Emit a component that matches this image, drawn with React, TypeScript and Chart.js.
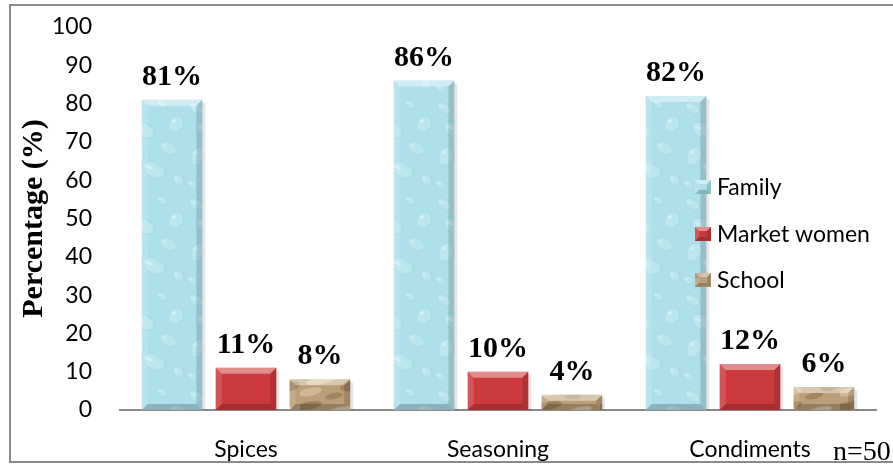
import React, { useEffect, useRef } from "react";
import { Chart, registerables } from "chart.js";

Chart.register(...registerables);

// ---------- data ----------
const categories = ["Spices", "Seasoning", "Condiments"];
const seriesNames = ["Family", "Market women", "School"];
const familyValues = [81, 86, 82];
const marketWomenValues = [11, 10, 12];
const schoolValues = [8, 4, 6];
const yMin = 0;
const yMax = 100;
const yStep = 10;
const yTitle = "Percentage (%)";
const sampleNote = "n=50";

// ---------- textures ----------
function makeFamilyPattern(): CanvasPattern | string {
  const c = document.createElement("canvas");
  c.width = 62;
  c.height = 96;
  const g = c.getContext("2d");
  if (!g) return "#ade0ea";
  g.fillStyle = "#aee0ea";
  g.fillRect(0, 0, c.width, c.height);
  const drops = [
    [10, 12, 8, 5], [38, 8, 6, 4], [52, 28, 7, 9], [20, 34, 11, 7],
    [44, 52, 9, 6], [12, 60, 7, 10], [30, 74, 12, 7], [54, 84, 6, 5],
    [6, 88, 5, 4],
  ];
  drops.forEach(([x, y, rx, ry]) => {
    g.beginPath();
    g.ellipse(x, y, rx, ry, 0.5, 0, Math.PI * 2);
    g.fillStyle = "rgba(205,240,246,0.4)";
    g.fill();
    g.lineWidth = 1.2;
    g.strokeStyle = "rgba(130,195,208,0.22)";
    g.stroke();
    g.beginPath();
    g.ellipse(x - rx * 0.35, y - ry * 0.35, rx * 0.35, ry * 0.25, 0.5, 0, Math.PI * 2);
    g.fillStyle = "rgba(255,255,255,0.3)";
    g.fill();
  });
  return g.createPattern(c, "repeat") || "#ade0ea";
}

function makeSchoolPattern(): CanvasPattern | string {
  const c = document.createElement("canvas");
  c.width = 60;
  c.height = 40;
  const g = c.getContext("2d");
  if (!g) return "#b69b76";
  g.fillStyle = "#bb9f78";
  g.fillRect(0, 0, c.width, c.height);
  const streaks = [
    [8, 6, 14, 4, "rgba(125,92,58,0.45)"], [40, 10, 12, 3, "rgba(232,214,180,0.7)"],
    [22, 20, 16, 4, "rgba(232,214,180,0.6)"], [50, 26, 10, 5, "rgba(115,85,52,0.4)"],
    [10, 32, 12, 4, "rgba(222,202,166,0.6)"], [34, 36, 9, 3, "rgba(125,92,58,0.4)"],
  ] as [number, number, number, number, string][];
  streaks.forEach(([x, y, rx, ry, col]) => {
    g.beginPath();
    g.ellipse(x, y, rx, ry, -0.2, 0, Math.PI * 2);
    g.fillStyle = col;
    g.fill();
  });
  return g.createPattern(c, "repeat") || "#b69b76";
}

function bevel(ctx: CanvasRenderingContext2D, left: number, top: number, right: number, bottom: number, size: number) {
  const b = Math.min(size, (bottom - top) / 2, (right - left) / 2);
  const poly = (pts: number[][], fill: string) => {
    ctx.beginPath();
    ctx.moveTo(pts[0][0], pts[0][1]);
    for (let i = 1; i < pts.length; i++) ctx.lineTo(pts[i][0], pts[i][1]);
    ctx.closePath();
    ctx.fillStyle = fill;
    ctx.fill();
  };
  poly([[left, top], [right, top], [right - b, top + b], [left + b, top + b]], "rgba(255,255,255,0.42)");
  poly([[left, top], [left + b, top + b], [left + b, bottom - b], [left, bottom]], "rgba(255,255,255,0.14)");
  poly([[right, top], [right - b, top + b], [right - b, bottom - b], [right, bottom]], "rgba(0,0,0,0.14)");
  poly([[left, bottom], [left + b, bottom - b], [right - b, bottom - b], [right, bottom]], "rgba(0,0,0,0.2)");
}

export default function App() {
  const canvasRef = useRef<HTMLCanvasElement | null>(null);

  useEffect(() => {
    const canvas = canvasRef.current;
    if (!canvas) return;
    const familyFill = makeFamilyPattern();
    const schoolFill = makeSchoolPattern();
    const marketFill = "#cd3a3d";
    const fills = [familyFill, marketFill, schoolFill];
    const seriesValues = [familyValues, marketWomenValues, schoolValues];

    const decorPlugin = {
      id: "decor",
      beforeDraw(chart: any) {
        const ctx = chart.ctx as CanvasRenderingContext2D;
        ctx.save();
        ctx.fillStyle = "#ffffff";
        ctx.fillRect(0, 0, chart.width, chart.height);
        ctx.restore();
      },
      beforeDatasetsDraw(chart: any) {
        const ctx = chart.ctx as CanvasRenderingContext2D;
        ctx.save();
        chart.data.datasets.forEach((_: any, di: number) => {
          const meta = chart.getDatasetMeta(di);
          meta.data.forEach((el: any) => {
            const { x, y, base, width } = el.getProps(["x", "y", "base", "width"], true);
            ctx.fillStyle = "rgba(0,0,0,0.1)";
            ctx.fillRect(x - width / 2 + 3, y + 3, width, base - y - 3);
          });
        });
        ctx.restore();
      },
      afterDatasetsDraw(chart: any) {
        const ctx = chart.ctx as CanvasRenderingContext2D;
        ctx.save();
        chart.data.datasets.forEach((ds: any, di: number) => {
          const meta = chart.getDatasetMeta(di);
          meta.data.forEach((el: any, i: number) => {
            const { x, y, base, width } = el.getProps(["x", "y", "base", "width"], true);
            bevel(ctx, x - width / 2, y, x + width / 2, base, 6);
            ctx.fillStyle = "#000000";
            ctx.font = "bold 30px 'Liberation Serif', 'Times New Roman', serif";
            ctx.textAlign = "center";
            ctx.textBaseline = "alphabetic";
            ctx.fillText(ds.data[i] + "%", x, y - 15);
          });
        });
        ctx.restore();
      },
      afterDraw(chart: any) {
        const ctx = chart.ctx as CanvasRenderingContext2D;
        ctx.save();
        // legend
        const rows = [187, 234, 280];
        seriesNames.forEach((name, i) => {
          const cy = rows[i];
          ctx.fillStyle = fills[i] as any;
          ctx.fillRect(695, cy - 7, 16, 14);
          bevel(ctx, 695, cy - 7, 711, cy + 7, 4);
          ctx.fillStyle = "#000000";
          ctx.font = "23px Lato, 'Open Sans', sans-serif";
          ctx.textAlign = "left";
          ctx.textBaseline = "middle";
          ctx.fillText(name, 717, cy + 1);
        });
        // sample size note
        ctx.font = "28px 'Liberation Serif', 'Times New Roman', serif";
        ctx.textAlign = "left";
        ctx.textBaseline = "alphabetic";
        ctx.fillStyle = "#000000";
        ctx.fillText(sampleNote, 833, 460);
        // outer frame
        ctx.strokeStyle = "#8a8a8a";
        ctx.lineWidth = 2;
        ctx.strokeRect(10, 5, chart.width + 20, 457);
        ctx.restore();
      },
    };

    const chart = new Chart(canvas, {
      type: "bar",
      data: {
        labels: categories,
        datasets: seriesNames.map((name, i) => ({
          label: name,
          data: seriesValues[i],
          backgroundColor: fills[i] as any,
          borderWidth: 0,
          categoryPercentage: 0.88,
          barPercentage: 0.82,
        })),
      },
      options: {
        responsive: false,
        animation: false,
        layout: { padding: { left: 0, right: 17, top: 27, bottom: 0 } },
        plugins: {
          legend: { display: false },
          tooltip: { enabled: false },
          title: { display: false },
        },
        scales: {
          x: {
            grid: { display: false, drawTicks: false },
            border: { display: true, color: "#8a8a8a", width: 2 },
            ticks: {
              color: "#000000",
              padding: 26,
              font: { family: "Lato, 'Open Sans', sans-serif", size: 23 },
            },
            afterFit(scale: any) {
              scale.height = 54;
              scale.paddingLeft = 0;
              scale.paddingRight = 0;
            },
          },
          y: {
            min: yMin,
            max: yMax,
            grid: { display: false, drawTicks: false },
            border: { display: false },
            ticks: {
              stepSize: yStep,
              color: "#000000",
              padding: 28,
              font: { family: "Lato, 'Open Sans', sans-serif", size: 23 },
            },
            title: {
              display: true,
              text: yTitle,
              color: "#000000",
              padding: { top: 16, bottom: 0 },
              font: { family: "'Liberation Serif', 'Times New Roman', serif", size: 30, weight: "bold" },
            },
            afterFit(scale: any) {
              scale.width = 120;
              scale.paddingTop = 0;
              scale.paddingBottom = 0;
            },
          },
        },
      },
      plugins: [decorPlugin],
    } as any);

    return () => chart.destroy();
  }, []);

  return (
    <div style={{ position: "fixed", left: 0, top: 0, width: 893, height: 464, background: "#ffffff" }}>
      <canvas ref={canvasRef} width={893} height={464} style={{ display: "block" }} />
    </div>
  );
}
